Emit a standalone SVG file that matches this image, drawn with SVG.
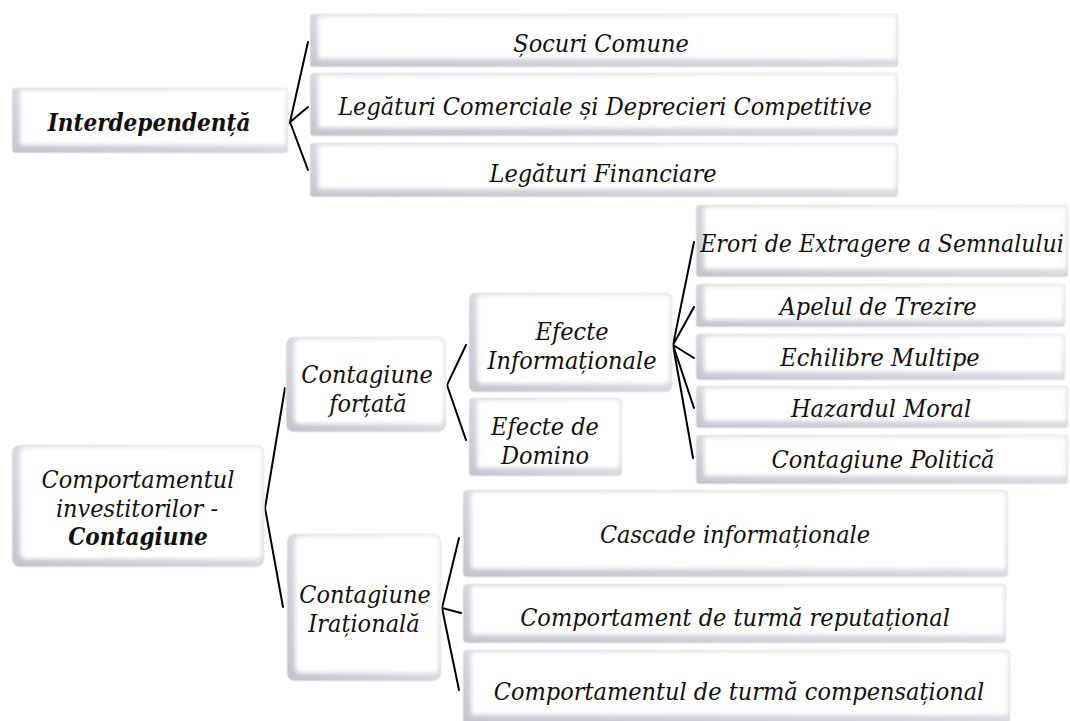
<svg xmlns="http://www.w3.org/2000/svg" width="1070" height="721" viewBox="0 0 1070 721">
<style>
.t{font-family:"DejaVu Serif Condensed","DejaVu Serif","Liberation Serif",serif;font-stretch:condensed;font-style:italic;font-size:25px;fill:#111;text-anchor:middle}
.b{font-weight:bold;font-size:24px}
.c{fill:none;stroke:#000;stroke-width:2;stroke-linecap:round}
.o{fill:url(#edge)}
.i{fill:#fff;filter:url(#soft)}
.f{fill:none;stroke:#ececf0;stroke-width:1}
</style>
<defs>
<linearGradient id="edge" x1="1" y1="0" x2="0" y2="1"><stop offset="0" stop-color="#ededf1"/><stop offset="1" stop-color="#c4c5ce"/></linearGradient>
<filter id="soft" x="-5%" y="-20%" width="110%" height="140%"><feGaussianBlur stdDeviation="2"/></filter>
</defs>
<rect width="1070" height="721" fill="#fff"/>
<g id="connectors">
<polyline class="c" points="308,42 290,122 308,107"/>
<line class="c" x1="290" y1="122" x2="308" y2="170"/>
<polyline class="c" points="285,388 265,508 283,607"/>
<polyline class="c" points="466,345 447,385 466,440"/>
<polyline class="c" points="694,242 673,345 694,307"/>
<polyline class="c" points="694,358 673,345 694,408"/>
<line class="c" x1="673" y1="345" x2="693" y2="458"/>
<polyline class="c" points="459,538 442,608 461,613"/>
<line class="c" x1="442" y1="608" x2="459" y2="690"/>
</g>
<g id="n-interdependenta"><rect class="o" x="12" y="88" width="276" height="65" rx="3"/><rect class="i" x="20" y="90" width="266" height="55" rx="2"/><rect class="f" x="12" y="88" width="276" height="65" rx="3"/><text class="t b" x="149" y="131">Interdependență</text></g>
<g id="n-socuri"><rect class="o" x="310" y="14" width="588" height="53" rx="3"/><rect class="i" x="318" y="16" width="578" height="43" rx="2"/><rect class="f" x="310" y="14" width="588" height="53" rx="3"/><text class="t" x="601" y="52">Șocuri Comune</text></g>
<g id="n-legaturi-comerciale"><rect class="o" x="310" y="73" width="588" height="63" rx="3"/><rect class="i" x="318" y="75" width="578" height="53" rx="2"/><rect class="f" x="310" y="73" width="588" height="63" rx="3"/><text class="t" x="605" y="115">Legături Comerciale și Deprecieri  Competitive</text></g>
<g id="n-legaturi-financiare"><rect class="o" x="310" y="143" width="588" height="54" rx="3"/><rect class="i" x="318" y="145" width="578" height="44" rx="2"/><rect class="f" x="310" y="143" width="588" height="54" rx="3"/><text class="t" x="603" y="182">Legături Financiare</text></g>
<g id="n-comportamentul"><rect class="o" x="12" y="445" width="252" height="122" rx="8"/><rect class="i" x="20" y="447" width="242" height="112" rx="6"/><rect class="f" x="12" y="445" width="252" height="122" rx="8"/><text class="t" x="138" y="488">Comportamentul</text><text class="t" x="137" y="517">investitorilor -</text><text class="t b" x="138" y="545">Contagiune</text></g>
<g id="n-fortata"><rect class="o" x="286" y="337" width="160" height="95" rx="8"/><rect class="i" x="294" y="339" width="150" height="85" rx="6"/><rect class="f" x="286" y="337" width="160" height="95" rx="8"/><text class="t" x="367" y="383">Contagiune</text><text class="t" x="368" y="412">forțată</text></g>
<g id="n-irationala"><rect class="o" x="287" y="534" width="154" height="147" rx="8"/><rect class="i" x="295" y="536" width="144" height="137" rx="6"/><rect class="f" x="287" y="534" width="154" height="147" rx="8"/><text class="t" x="365" y="603">Contagiune</text><text class="t" x="364" y="632">Irațională</text></g>
<g id="n-efecte-info"><rect class="o" x="469" y="293" width="203" height="99" rx="6"/><rect class="i" x="477" y="295" width="193" height="89" rx="5"/><rect class="f" x="469" y="293" width="203" height="99" rx="6"/><text class="t" x="572" y="340">Efecte</text><text class="t" x="572" y="369">Informaționale</text></g>
<g id="n-domino"><rect class="o" x="469" y="398" width="153" height="78" rx="4"/><rect class="i" x="477" y="400" width="143" height="68" rx="3"/><rect class="f" x="469" y="398" width="153" height="78" rx="4"/><text class="t" x="545" y="435">Efecte de</text><text class="t" x="545" y="464">Domino</text></g>
<g id="n-erori"><rect class="o" x="696" y="205" width="372" height="72" rx="3"/><rect class="i" x="704" y="207" width="362" height="62" rx="2"/><rect class="f" x="696" y="205" width="372" height="72" rx="3"/><text class="t" x="882" y="252" style="font-size:24.5px">Erori de Extragere a Semnalului</text></g>
<g id="n-apelul"><rect class="o" x="696" y="284" width="369" height="43" rx="3"/><rect class="i" x="704" y="286" width="359" height="34" rx="2"/><rect class="f" x="696" y="284" width="369" height="43" rx="3"/><text class="t" x="878" y="315">Apelul de Trezire</text></g>
<g id="n-echilibre"><rect class="o" x="696" y="334" width="369" height="46" rx="3"/><rect class="i" x="704" y="336" width="359" height="36" rx="2"/><rect class="f" x="696" y="334" width="369" height="46" rx="3"/><text class="t" x="880" y="366">Echilibre Multipe</text></g>
<g id="n-hazardul"><rect class="o" x="696" y="386" width="372" height="42" rx="3"/><rect class="i" x="704" y="388" width="362" height="33" rx="2"/><rect class="f" x="696" y="386" width="372" height="42" rx="3"/><text class="t" x="881" y="417">Hazardul Moral</text></g>
<g id="n-politica"><rect class="o" x="696" y="435" width="372" height="49" rx="3"/><rect class="i" x="704" y="437" width="362" height="39" rx="2"/><rect class="f" x="696" y="435" width="372" height="49" rx="3"/><text class="t" x="883" y="468">Contagiune Politică</text></g>
<g id="n-cascade"><rect class="o" x="463" y="490" width="545" height="87" rx="4"/><rect class="i" x="471" y="492" width="535" height="77" rx="3"/><rect class="f" x="463" y="490" width="545" height="87" rx="4"/><text class="t" x="735" y="543">Cascade informaționale</text></g>
<g id="n-reputational"><rect class="o" x="463" y="584" width="543" height="59" rx="4"/><rect class="i" x="471" y="586" width="533" height="49" rx="3"/><rect class="f" x="463" y="584" width="543" height="59" rx="4"/><text class="t" x="735" y="626">Comportament de turmă reputațional</text></g>
<g id="n-compensational"><rect class="o" x="463" y="650" width="547" height="75" rx="4"/><rect class="i" x="471" y="652" width="537" height="63" rx="3"/><rect class="f" x="463" y="650" width="547" height="75" rx="4"/><text class="t" x="739" y="700">Comportamentul de turmă compensațional</text></g>
</svg>
